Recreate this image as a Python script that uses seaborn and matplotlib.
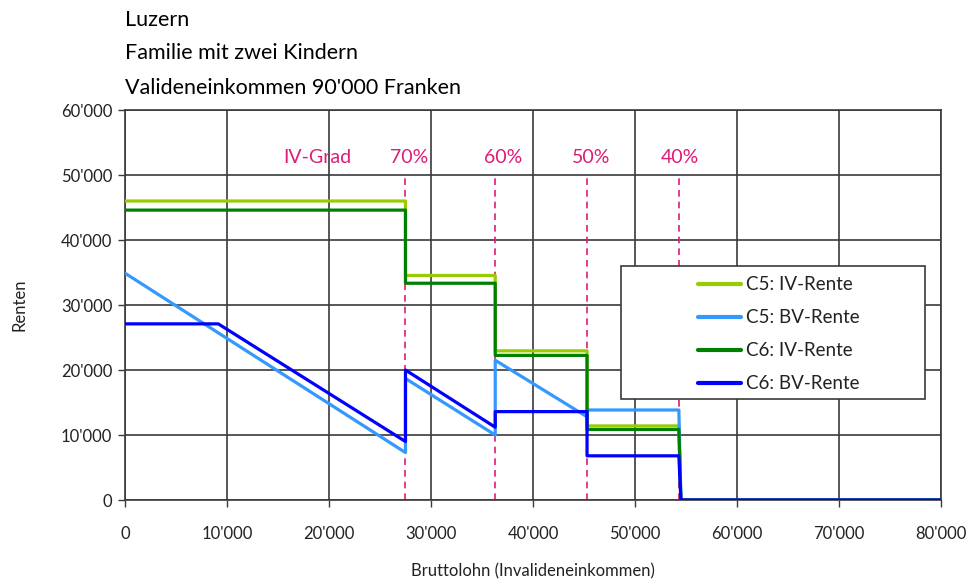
import pandas as pd
import matplotlib
matplotlib.use("Agg")
import matplotlib.pyplot as plt
import seaborn as sns
from matplotlib.ticker import FuncFormatter, MultipleLocator
from matplotlib.patches import Rectangle

# Werte
series_names = ["C5: IV-Rente", "C5: BV-Rente", "C6: IV-Rente", "C6: BV-Rente"]
series_colors = ["#99CC00", "#3399FF", "#008000", "#0000FF"]

iv_x = [0, 27500, 27500, 36300, 36300, 45300, 45300, 54300, 54500, 80000]
c5_iv = [46000, 46000, 34550, 34550, 22950, 22950, 11400, 11400, 0, 0]
c6_iv = [44600, 44600, 33350, 33350, 22250, 22250, 10850, 10850, 0, 0]

c5_bv_x = [0, 27500, 27500, 36300, 36300, 45300, 45300, 54300, 54500, 80000]
c5_bv = [34900, 7300, 18700, 10000, 21500, 12800, 13850, 13850, 0, 0]

c6_bv_x = [0, 9150, 27500, 27500, 36300, 36300, 45300, 45300, 54300, 54500, 80000]
c6_bv = [27100, 27100, 9000, 20000, 11200, 13600, 13600, 6800, 6800, 0, 0]

# IV-Grad Schwellen
grad_x = [27500, 36300, 45300, 54300]
grad_labels = ["70%", "60%", "50%", "40%"]
grad_label_x = [27900, 37100, 45700, 54400]

frames = []
for name, xs, ys in [
    (series_names[0], iv_x, c5_iv),
    (series_names[1], c5_bv_x, c5_bv),
    (series_names[2], iv_x, c6_iv),
    (series_names[3], c6_bv_x, c6_bv),
]:
    frames.append(pd.DataFrame({"x": xs, "y": ys, "serie": name}))
df = pd.concat(frames, ignore_index=True)

sns.set_style("white")
plt.rcParams["font.family"] = ["Lato", "DejaVu Sans"]
magenta = "#DD1C77"
grid_col = "#3a3a3a"
txt_col = "#222222"

fig = plt.figure(figsize=(9.71, 5.79), dpi=100)
ax = fig.add_axes([0.1287, 0.1364, 0.8404, 0.6736])

for x in grad_x:
    ax.plot([x, x], [0, 50000], color=magenta, lw=1.2, ls=(0, (4, 3)), zorder=2)

sns.lineplot(data=df, x="x", y="y", hue="serie", hue_order=series_names,
             palette=series_colors, estimator=None, sort=False, units="serie",
             linewidth=2.3, ax=ax, zorder=3)

ax.set_xlim(0, 80000)
ax.set_ylim(0, 60000)
ax.xaxis.set_major_locator(MultipleLocator(10000))
ax.yaxis.set_major_locator(MultipleLocator(10000))
fmt = FuncFormatter(lambda v, p: f"{v:,.0f}".replace(",", "'"))
ax.xaxis.set_major_formatter(fmt)
ax.yaxis.set_major_formatter(fmt)
ax.grid(True, color=grid_col, lw=1.2)
ax.set_axisbelow(True)
for s in ax.spines.values():
    s.set_visible(True)
    s.set_color(grid_col)
    s.set_linewidth(1.2)
ax.tick_params(axis="both", direction="out", length=5, color=grid_col, width=1.0,
               labelsize=12, labelcolor=txt_col, bottom=True, left=True)
ax.tick_params(axis="x", pad=14)
ax.tick_params(axis="y", pad=4)
ax.set_xlabel("Bruttolohn (Invalideneinkommen)", fontsize=12, color=txt_col, labelpad=15)
ax.set_ylabel("Renten", fontsize=12, color=txt_col, labelpad=24)

ax.text(18900, 52700, "IV-Grad", color=magenta, fontsize=14, ha="center", va="center")
for lx, lab in zip(grad_label_x, grad_labels):
    ax.text(lx, 52700, lab, color=magenta, fontsize=14, ha="center", va="center")

# Legende
ax.add_patch(Rectangle((0.608, 0.259), 0.372, 0.341, transform=ax.transAxes,
                       facecolor="white", edgecolor=grid_col, lw=1.2, zorder=4))
handles, labels = ax.get_legend_handles_labels()
leg = ax.legend(handles, labels, loc="upper left", bbox_to_anchor=(0.682, 0.617),
                frameon=False, fontsize=13.5, handlelength=2.3, handletextpad=0.25,
                labelspacing=0.85)
leg.set_zorder(5)
for t in leg.get_texts():
    t.set_color(txt_col)
for line in leg.get_lines():
    line.set_linewidth(3)

fig.text(0.1287, 0.965, "Luzern", fontsize=15.5, va="center", ha="left", color="black")
fig.text(0.1287, 0.908, "Familie mit zwei Kindern", fontsize=15.5, va="center", ha="left", color="black")
fig.text(0.1287, 0.848, "Valideneinkommen 90'000 Franken", fontsize=15.5, va="center", ha="left", color="black")

fig.savefig("out.png", dpi=100)
